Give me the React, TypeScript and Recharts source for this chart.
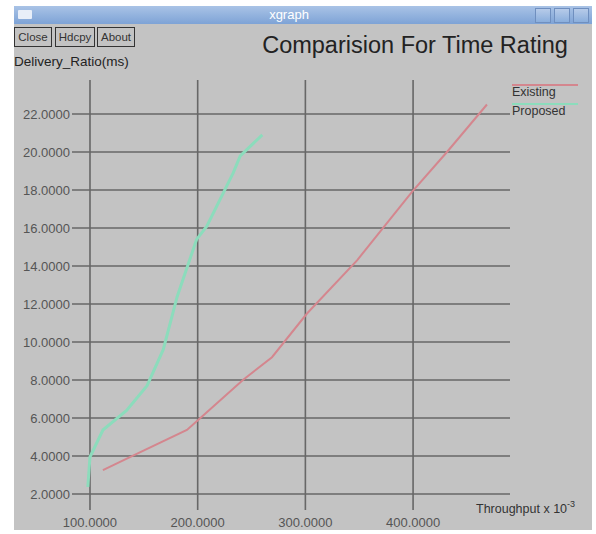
import React from "react";
import { LineChart, Line, XAxis, YAxis, CartesianGrid } from "recharts";

const xTicks = [100, 200, 300, 400];
const yTicks = [2, 4, 6, 8, 10, 12, 14, 16, 18, 20, 22];

const existingX = [112, 139, 190, 202, 242, 269, 301.5, 348, 399, 431.5, 468.6];
const existingY = [3.26, 4.0, 5.37, 5.97, 8.0, 9.2, 11.5, 14.3, 17.9, 20.0, 22.5];

const proposedX = [98, 100, 112, 134, 153, 168, 181, 199, 208.5, 233, 239.5, 260];
const proposedY = [2.37, 3.95, 5.37, 6.4, 7.7, 9.6, 12.4, 15.4, 16.1, 18.9, 19.8, 20.9];

const seriesNames = ["Existing", "Proposed"];
const seriesColors = ["#d4868e", "#8cdcbc"];
const buttons = ["Close", "Hdcpy", "About"];

const existingData = existingX.map((x, i) => ({ x, y: existingY[i] }));
const proposedData = proposedX.map((x, i) => ({ x, y: proposedY[i] }));

const FONT = "'Liberation Sans', Arial, Helvetica, sans-serif";

export default function App() {
  return (
    <div style={{ position: "absolute", left: 0, top: 0, width: 596, height: 534, background: "#ffffff", fontFamily: FONT, overflow: "hidden" }}>
      {/* window body */}
      <div style={{ position: "absolute", left: 14, top: 24, width: 578, height: 506, background: "#c3c3c3" }} />
      {/* title bar */}
      <div style={{ position: "absolute", left: 14, top: 6, width: 578, height: 18, background: "linear-gradient(#a9c3e6, #7ea3d6)" }} />
      <div style={{ position: "absolute", left: 18, top: 10, width: 14, height: 9, background: "#e8eef8", borderRadius: 1 }} />
      <div style={{ position: "absolute", left: 0, top: 6, width: 578, height: 18, lineHeight: "18px", textAlign: "center", color: "#ffffff", fontSize: 13 }}>xgraph</div>
      {[0, 1, 2].map((i) => (
        <div key={i} style={{ position: "absolute", left: 535 + i * 19, top: 8, width: 16, height: 15, background: "linear-gradient(#b7cbe9, #8aaedc)", border: "1px solid #6f8fbf", boxSizing: "border-box" }} />
      ))}
      {/* buttons */}
      {buttons.map((b, i) => (
        <div key={b} style={{ position: "absolute", left: [14, 55, 97][i], top: 27, width: [38, 40, 38][i], height: 20, border: "1px solid #333", boxSizing: "border-box", fontSize: 11.5, lineHeight: "18px", textAlign: "center", color: "#333" }}>{b}</div>
      ))}
      {/* title */}
      <div style={{ position: "absolute", left: 250, top: 32, width: 330, textAlign: "center", fontSize: 23.5, color: "#222", whiteSpace: "nowrap" }}>Comparision For Time Rating</div>
      {/* y label */}
      <div style={{ position: "absolute", left: 14, top: 54, fontSize: 13.5, color: "#222", whiteSpace: "nowrap" }}>Delivery_Ratio(ms)</div>

      <div style={{ position: "absolute", left: 0, top: 0 }}>
        <LineChart width={596} height={534} margin={{ top: 80, right: 86, bottom: 0, left: 0 }}>
          <CartesianGrid stroke="#676767" strokeWidth={1.6} horizontalValues={yTicks} verticalValues={xTicks} />
          <XAxis
            type="number"
            dataKey="x"
            domain={[83.3, 490]}
            ticks={xTicks}
            allowDataOverflow
            axisLine={false}
            tickLine={false}
            tickSize={0}
            tickMargin={8}
            height={24}
            interval={0}
            tickFormatter={(v: number) => v.toFixed(4)}
            tick={{ fill: "#555", fontSize: 13, fontFamily: FONT }}
          />
          <YAxis
            type="number"
            dataKey="y"
            domain={[1.16, 23.79]}
            ticks={yTicks}
            allowDataOverflow
            axisLine={false}
            tickLine={false}
            tickSize={0}
            tickMargin={2}
            width={72}
            interval={0}
            tickFormatter={(v: number) => v.toFixed(4)}
            tick={{ fill: "#555", fontSize: 13, fontFamily: FONT }}
          />
          <Line data={existingData} dataKey="y" name={seriesNames[0]} type="linear" stroke={seriesColors[0]} strokeWidth={2} dot={false} isAnimationActive={false} />
          <Line data={proposedData} dataKey="y" name={seriesNames[1]} type="linear" stroke={seriesColors[1]} strokeWidth={3} dot={false} isAnimationActive={false} />
        </LineChart>
      </div>

      {/* legend */}
      {seriesNames.map((n, i) => (
        <React.Fragment key={n}>
          <div style={{ position: "absolute", left: 512, top: 84 + i * 19, width: 66, height: 2, background: seriesColors[i] }} />
          <div style={{ position: "absolute", left: 512, top: 85 + i * 19, fontSize: 12.5, color: "#333", whiteSpace: "nowrap" }}>{n}</div>
        </React.Fragment>
      ))}
      {/* x label */}
      <div style={{ position: "absolute", left: 476, top: 502, fontSize: 12.5, color: "#333", whiteSpace: "nowrap" }}>
        Throughput x 10<sup style={{ fontSize: 9, verticalAlign: "top", position: "relative", top: -3 }}>-3</sup>
      </div>
    </div>
  );
}
